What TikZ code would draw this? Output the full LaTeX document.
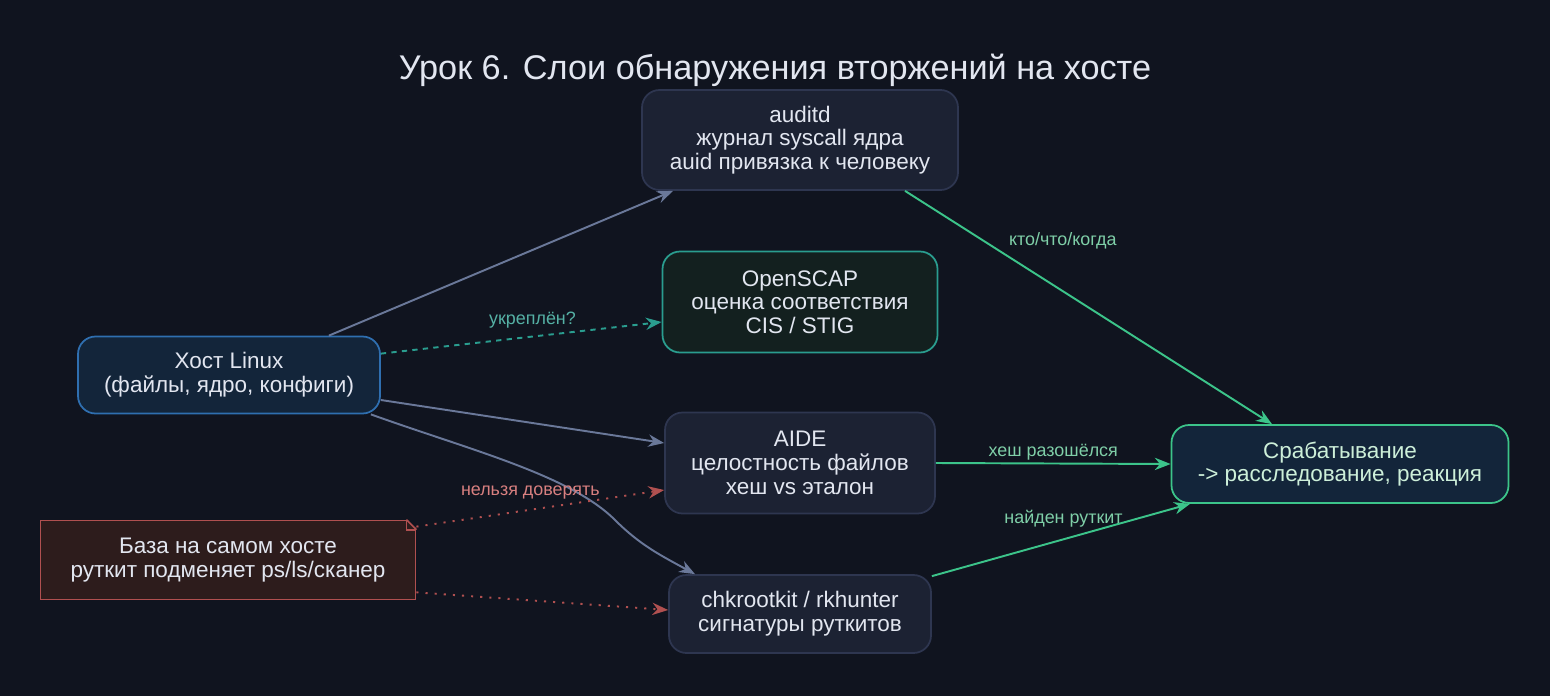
\documentclass[tikz,border=0pt]{standalone}
\usepackage{fontspec}
\setmainfont{Liberation Sans}
\usetikzlibrary{arrows.meta}
\definecolor{bgc}{HTML}{10141F}
\definecolor{boxfill}{HTML}{1C2233}
\definecolor{boxline}{HTML}{2E3650}
\definecolor{txt}{HTML}{E2E6F0}
\definecolor{edgec}{HTML}{6A7899}
\definecolor{teal}{HTML}{2A9D8F}
\definecolor{tealfill}{HTML}{13201F}
\definecolor{hostfill}{HTML}{13253A}
\definecolor{hostline}{HTML}{2F6FB0}
\definecolor{grn}{HTML}{3CC48A}
\definecolor{grntxt}{HTML}{CDEFD9}
\definecolor{grnlbl}{HTML}{7FCFA8}
\definecolor{redl}{HTML}{B05050}
\definecolor{redfill}{HTML}{2D1C1C}
\definecolor{redlbl}{HTML}{D98080}
\tikzset{
  box/.style = {draw=boxline, fill=boxfill, rounded corners=10pt, line width=1pt,
    text=txt, align=center, font=\fontsize{12.8}{13.5}\selectfont, inner sep=0pt},
  edge/.style = {draw=edgec, line width=1.1pt, -{Stealth[length=9pt,width=7pt]}},
  lbl/.style = {font=\fontsize{10.2}{12}\selectfont}
}
\begin{document}
\begin{tikzpicture}[x=0.02cm, y=-0.02cm]
            \fill[bgc] (0,0) rectangle (1550,696);
            \useasboundingbox (0,0) rectangle (1550,696);

            \node[text=txt, font=\fontsize{19.5}{22}\selectfont] (title) at (775,70) {Урок 6. Слои обнаружения вторжений на хосте};

            \node[box, minimum width=316*0.02cm, minimum height=100*0.02cm] (audit) at (800,140)
                {auditd\\журнал syscall ядра\\auid привязка к человеку};
            \node[box, draw=teal, fill=tealfill, minimum width=275*0.02cm, minimum height=101*0.02cm] (scap) at (800,302)
                {OpenSCAP\\оценка соответствия\\CIS / STIG};
            \node[box, minimum width=270*0.02cm, minimum height=101*0.02cm] (aide) at (800,463)
                {AIDE\\целостность файлов\\хеш vs эталон};
            \node[box, minimum width=262*0.02cm, minimum height=78*0.02cm] (chk) at (800,614)
                {chkrootkit / rkhunter\\сигнатуры руткитов};
            \node[box, draw=hostline, fill=hostfill, minimum width=302*0.02cm, minimum height=77*0.02cm] (host) at (229,375)
                {Хост Linux\\(файлы, ядро, конфиги)};
            \node[box, draw=grn, fill=hostfill, text=grntxt, minimum width=337*0.02cm, minimum height=78*0.02cm] (alert) at (1340,464)
                {Срабатывание\\-> расследование, реакция};
            \node[box, rounded corners=0pt, draw=redl, fill=redfill, minimum width=375*0.02cm, minimum height=79*0.02cm] (base) at (228,560)
                {База на самом хосте\\руткит подменяет ps/ls/сканер};
            \fill[bgc] ([xshift=-10*0.02cm, yshift=0.6pt]base.north east) -- ([xshift=0.6pt, yshift=0.6pt]base.north east) -- ([xshift=0.6pt, yshift=-10*0.02cm]base.north east) -- cycle;
            \draw[redl, line width=1pt] ([xshift=-10*0.02cm]base.north east) -- ([xshift=-10*0.02cm, yshift=-10*0.02cm]base.north east) -- ([yshift=-10*0.02cm]base.north east);
            \draw[redl, line width=1pt] ([xshift=-10*0.02cm]base.north east) -- ([yshift=-10*0.02cm]base.north east);

            \draw[edge] ([xshift=-52*0.02cm]host.north east) -- ([xshift=-127*0.02cm]audit.south);
            \draw[edge, draw=teal, dashed] ([yshift=-18*0.02cm]host.north east) -- node[lbl, text=teal!80!white, above=1pt, pos=0.54] {укреплён?} (scap.west|-0,322);
            \draw[edge] ([yshift=-25*0.02cm]host.east) -- ([yshift=20*0.02cm]aide.west);
            \draw[edge] ([xshift=-10*0.02cm]host.south east) .. controls (470,450) and (570,475) .. (615,520) .. controls (640,545) and (660,555) .. ([xshift=-105*0.02cm]chk.north);

            \draw[edge, draw=grn] ([xshift=105*0.02cm]audit.south) -- node[lbl, text=grnlbl, pos=0.43, above=20pt] {кто/что/когда} ([xshift=-68*0.02cm]alert.north);
            \draw[edge, draw=grn] (aide.east) -- node[lbl, text=grnlbl, above=-2pt] {хеш разошёлся} (alert.west);
            \draw[edge, draw=grn] ([yshift=-2*0.02cm]chk.north east) -- node[lbl, text=grnlbl, pos=0.51, above=3pt] {найден руткит} ([xshift=-150*0.02cm]alert.south);

            \draw[edge, draw=redl, dotted, dash pattern=on 1.2pt off 4pt] ([yshift=-7*0.02cm]base.north east) -- node[lbl, text=redlbl, pos=0.46, above=2pt] {нельзя доверять} ([yshift=-27*0.02cm]aide.west);
            \draw[edge, draw=redl, dotted, dash pattern=on 1.2pt off 4pt] ([yshift=8*0.02cm]base.south east) -- ([yshift=4*0.02cm]chk.west);
\end{tikzpicture}
\end{document}
